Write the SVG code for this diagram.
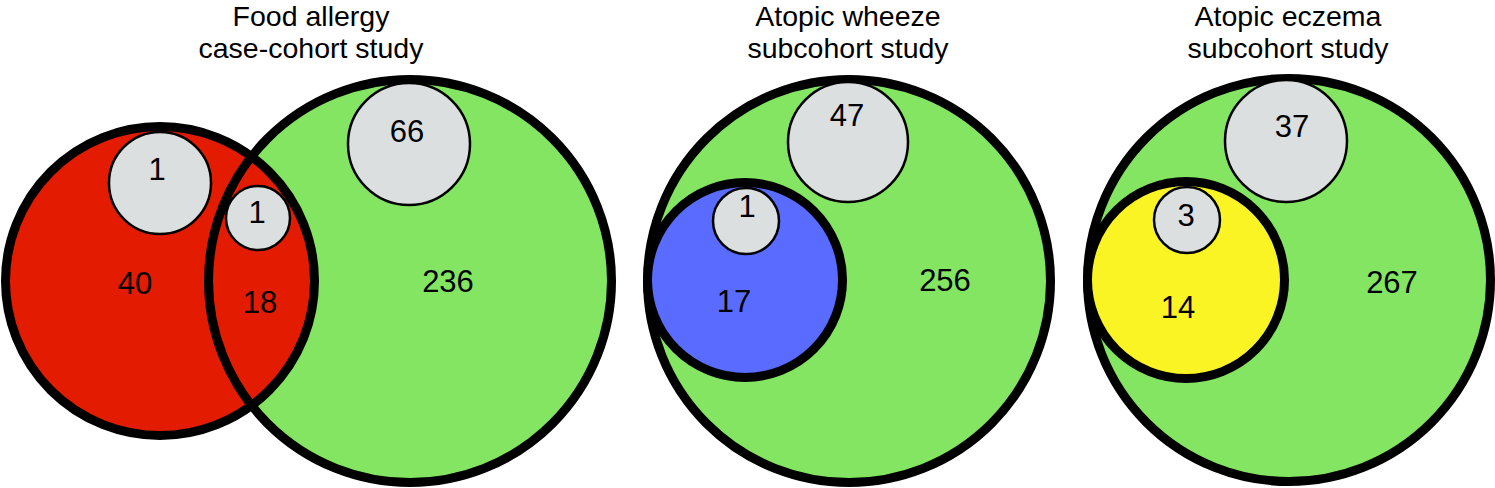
<svg xmlns="http://www.w3.org/2000/svg" width="1495" height="488" viewBox="0 0 1495 488">
<style>
.title{font-family:"Liberation Sans",Arial,sans-serif;font-size:28.5px;fill:#000;text-anchor:middle}
.num{font-family:"Liberation Sans",Arial,sans-serif;font-size:31px;fill:#000;text-anchor:middle}
.big{stroke:#000;stroke-width:9}
.gray{fill:#DCDFDF;stroke:#000;stroke-width:2.5}
.green{fill:#83E562}
.red{fill:#E31B00}
.blue{fill:#5A6CFF}
.yellow{fill:#FAF425}
.nofill{fill:none}
</style>
<rect width="1495" height="488" fill="#fff"/>
<!-- Panel 1 -->
<g id="panel1-title">
<text class="title" x="311" y="26">Food allergy</text>
<text class="title" x="311" y="58">case-cohort study</text>
</g>
<g id="fa-cohort">
<circle class="green" cx="410" cy="281" r="201.5"/>
</g>
<g id="fa-cases">
<circle class="red" cx="160" cy="281" r="154.5"/>
<circle class="big nofill" cx="410" cy="281" r="201.5"/>
<circle class="big nofill" cx="160" cy="281" r="154.5"/>
<text class="num" x="135" y="294">40</text>
<text class="num" x="260" y="313">18</text>
<text class="num" x="448" y="292">236</text>
</g>
<g id="fa-gray1">
<circle class="gray" cx="160" cy="183" r="51"/>
<text class="num" x="157" y="180">1</text>
</g>
<g id="fa-gray2">
<circle class="gray" cx="258" cy="218" r="32"/>
<text class="num" x="257" y="223">1</text>
</g>
<g id="fa-gray3">
<circle class="gray" cx="409" cy="144" r="61"/>
<text class="num" x="407" y="142">66</text>
</g>
<!-- Panel 2 -->
<g id="panel2-title">
<text class="title" x="848" y="26">Atopic wheeze</text>
<text class="title" x="848" y="58">subcohort study</text>
</g>
<g id="aw-cohort">
<circle class="green big" cx="849" cy="281" r="201.5"/>
<text class="num" x="945" y="291">256</text>
</g>
<g id="aw-cases">
<circle class="blue big" cx="745" cy="280" r="97.5"/>
<text class="num" x="734" y="312">17</text>
</g>
<g id="aw-gray1">
<circle class="gray" cx="848" cy="142" r="60"/>
<text class="num" x="847" y="126">47</text>
</g>
<g id="aw-gray2">
<circle class="gray" cx="746" cy="221" r="33"/>
<text class="num" x="747" y="217">1</text>
</g>
<!-- Panel 3 -->
<g id="panel3-title">
<text class="title" x="1288" y="26">Atopic eczema</text>
<text class="title" x="1288" y="58">subcohort study</text>
</g>
<g id="ae-cohort">
<circle class="green big" cx="1289" cy="280" r="201.5"/>
<text class="num" x="1392" y="293">267</text>
</g>
<g id="ae-cases">
<circle class="yellow big" cx="1186" cy="280" r="98.5"/>
<text class="num" x="1178" y="318">14</text>
</g>
<g id="ae-gray1">
<circle class="gray" cx="1286" cy="141" r="61"/>
<text class="num" x="1292" y="137">37</text>
</g>
<g id="ae-gray2">
<circle class="gray" cx="1187" cy="220" r="33"/>
<text class="num" x="1186" y="226">3</text>
</g>
<g id="connectors"/>
</svg>
